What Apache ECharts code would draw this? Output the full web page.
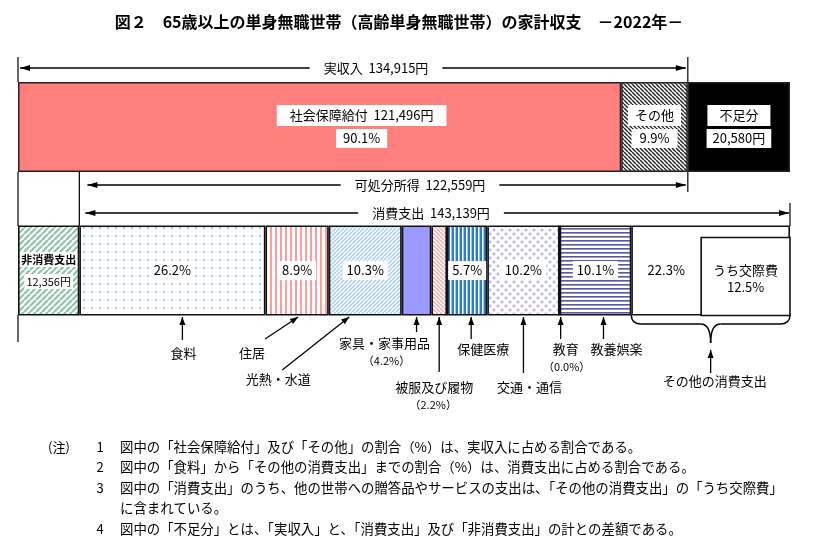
<!DOCTYPE html>
<html><head><meta charset="utf-8">
<script src="https://cdn.jsdelivr.net/npm/echarts@6/dist/echarts.min.js"></script>
<style>html,body{margin:0;padding:0;background:#fff}#c{width:822px;height:539px}</style>
</head><body><div id="c"></div>
<script>
const FONT = '"Noto Sans CJK JP","Noto Sans",sans-serif';

// ---- data ----
const titleText = '図２　65歳以上の単身無職世帯（高齢単身無職世帯）の家計収支　－2022年－';
const rowNames = ['収入', '支出'];
const incomeNames = ['社会保障給付', 'その他', '不足分'];
const incomeValues = [121496, 13419, 20580];
const expenseNames = ['非消費支出', '食料', '住居', '光熱・水道', '家具・家事用品', '被服及び履物', '保健医療', '交通・通信', '教育', '教養娯楽', 'その他の消費支出'];
const expenseValues = [12356, 37485, 12746, 14704, 5968, 3151, 8118, 14558, 15, 14429, 31965];
const kousaiName = 'うち交際費';
const kousaiValue = 17892;
const rangeNames = ['実収入', '可処分所得', '消費支出'];
const notes = [
  ['1', '図中の「社会保障給付」及び「その他」の割合（%）は、実収入に占める割合である。'],
  ['2', '図中の「食料」から「その他の消費支出」までの割合（%）は、消費支出に占める割合である。'],
  ['3', '図中の「消費支出」のうち、他の世帯への贈答品やサービスの支出は、「その他の消費支出」の「うち交際費」'],
  ['', 'に含まれている。'],
  ['4', '図中の「不足分」とは、「実収入」と、「消費支出」及び「非消費支出」の計との差額である。']
];

// ---- derived ----
const jitsu = incomeValues[0] + incomeValues[1];
const shohi = expenseValues.slice(1).reduce((a, b) => a + b, 0);
const kashobun = jitsu - expenseValues[0];
const grand = incomeValues.reduce((a, b) => a + b, 0);
const fmt = v => String(v).replace(/\B(?=(\d{3})+(?!\d))/g, ',');
const pct = (v, t) => (v / t * 100).toFixed(1);

// ---- patterns ----
function pat(w, h, fn) { const c = document.createElement('canvas'); c.width = w; c.height = h; const g = c.getContext('2d'); g.fillStyle = '#fff'; g.fillRect(0, 0, w, h); fn(g, w, h); return { image: c, repeat: 'repeat' }; }
function diag(color, lw, s, dir) {
  return pat(s, s, g => { g.strokeStyle = color; g.lineWidth = lw; g.beginPath();
    for (const k of [-s, 0, s]) { if (dir === '/') { g.moveTo(k, s); g.lineTo(k + s, 0); } else { g.moveTo(k, 0); g.lineTo(k + s, s); } }
    g.stroke(); });
}
function vstripe(color, p, w) { return pat(p, 2, g => { g.fillStyle = color; g.fillRect(0, 0, w, 2); }); }
function hstripe(color, p, w) { return pat(2, p, g => { g.fillStyle = color; g.fillRect(0, 0, 2, w); }); }
const dots = pat(8, 8, g => { g.fillStyle = '#A9C9EE'; g.fillRect(3, 3, 2, 2); });
const diamonds = pat(8, 8, g => { g.fillStyle = '#BEBEF6';
  for (const [cx, cy] of [[2, 2], [6, 6]]) { g.beginPath(); g.moveTo(cx, cy - 2); g.lineTo(cx + 2, cy); g.lineTo(cx, cy + 2); g.lineTo(cx - 2, cy); g.closePath(); g.fill(); } });
const health = pat(4, 2, g => { g.fillStyle = '#2B7BD6'; g.fillRect(0, 0, 2, 2); g.fillStyle = '#9CC6F2'; g.fillRect(3, 0, 1, 2); });

const incomeFills = ['#FF7F7F', diag('#222', 1.4, 4, '\\'), '#000'];
const expenseFills = [diag('#8CC6A8', 2.2, 6, '/'), dots, vstripe('#FF9C9C', 5, 2), diag('#AACFF3', 1.5, 4, '/'), '#9999FF',
  diag('#F6A9A9', 1.5, 4, '\\'), health, diamonds, '#fff', hstripe('#5757AD', 4, 1.6), '#fff'];

const boxA = { backgroundColor: '#fff', fontSize: 13, lineHeight: 14, fontFamily: FONT, color: '#000' };
const sp = (h) => ({ fontSize: 1, height: h, lineHeight: h });

const series = [];
incomeNames.forEach((n, i) => {
  const v = incomeValues[i];
  let text, offset = [0, 0], pa = [4, 8], pb = [3, 8];
  if (i === 0) { text = `{a|${n}  ${fmt(v)}円}\n{s| }\n{b|${pct(v, jitsu)}%}`; offset = [42, 0]; pa = [4, 13]; pb = [3, 7]; }
  else if (i === 1) { text = `{a|${n}}\n{s| }\n{b|${pct(v, jitsu)}%}`; pa = [4, 7]; }
  else { text = `{a|${n}}\n{s| }\n{b|${fmt(v)}円}`; pa = [4, 12]; pb = [3, 6]; }
  series.push({
    type: 'bar', name: n, stack: 'all', barWidth: 90, data: [v, '-'],
    itemStyle: { color: incomeFills[i], borderColor: '#222', borderWidth: 1.5 },
    label: { show: true, position: 'inside', offset, formatter: () => text,
      rich: { a: Object.assign({}, boxA, { padding: pa }), b: Object.assign({}, boxA, { padding: pb }), s: sp(9) } }
  });
});
const kousaiOffset = -(kousaiValue / grand * 772) / 2;
expenseNames.forEach((n, i) => {
  const v = expenseValues[i];
  let label = { show: false };
  if (i === 0) {
    label = { show: true, formatter: () => `{a|${n}}\n{s| }\n{b|${fmt(v)}円}`,
      rich: { a: { backgroundColor: '#fff', fontSize: 11, fontWeight: 'bold', lineHeight: 12, padding: [2, 1], fontFamily: FONT, color: '#000' },
        b: { backgroundColor: '#fff', fontSize: 11, lineHeight: 12, padding: [2, 2], fontFamily: FONT, color: '#000' }, s: sp(10) } };
  } else if (![4, 5, 8].includes(i)) {
    label = { show: true, offset: i === 10 ? [kousaiOffset, 0] : [0, 0], formatter: () => `{p|${pct(v, shohi)}%}`,
      rich: { p: { backgroundColor: '#fff', fontSize: 13, lineHeight: 14, padding: [3, 4], fontFamily: FONT, color: '#000' } } };
  }
  series.push({
    type: 'bar', name: n, stack: 'all', barWidth: 90, data: ['-', v],
    itemStyle: { color: expenseFills[i], borderColor: '#111', borderWidth: 1.6 }, label
  });
});
series.push({
  type: 'custom', name: kousaiName, data: [[grand - kousaiValue, grand, 1]], encode: { x: [0, 1], y: 2 }, z: 5,
  renderItem: (params, api) => {
    const s = api.coord([api.value(0), 1]), e = api.coord([api.value(1), 1]);
    const top = s[1] - 45 + 12, h = 78;
    return { type: 'group', children: [
      { type: 'rect', shape: { x: s[0], y: top, width: e[0] - s[0], height: h }, style: { fill: '#fff', stroke: '#111', lineWidth: 1.6 } },
      { type: 'text', style: { text: kousaiName + '\n' + pct(kousaiValue, shohi) + '%', x: (s[0] + e[0]) / 2, y: top + h / 2 + 2, align: 'center', verticalAlign: 'middle', fontSize: 13, lineHeight: 17, fontFamily: FONT, fill: '#000' } }
    ] };
  }
});

const chart = echarts.init(document.getElementById('c'), null, { renderer: 'canvas' });
chart.setOption({
  animation: false, backgroundColor: '#fff',
  grid: { left: 18, right: 32, top: 55.25, height: 287 },
  xAxis: { type: 'value', min: 0, max: grand, show: false },
  yAxis: { type: 'category', data: rowNames, inverse: true, show: false },
  series
});

// ---- annotations ----
const X = v => chart.convertToPixel({ xAxisIndex: 0 }, v);
const G = [];
const txt = (t, x, y, o = {}) => G.push({ type: 'text', x, y, silent: true, z: 10, style: Object.assign({ text: t, fontSize: 13, fontFamily: FONT, fill: '#000', align: 'center', verticalAlign: 'middle' }, o) });
const line = (x1, y1, x2, y2, lw = 1.2) => G.push({ type: 'line', silent: true, z: 1, shape: { x1, y1, x2, y2 }, style: { stroke: '#000', lineWidth: lw } });
const curve = (x1, y1, cx, cy, x2, y2) => G.push({ type: 'bezierCurve', silent: true, z: 10, shape: { x1, y1, x2, y2, cpx1: cx, cpy1: cy }, style: { stroke: '#000', lineWidth: 1.5, fill: null } });
function head(tx, ty, fx, fy, len = 8, hw = 3) {
  const dx = tx - fx, dy = ty - fy, d = Math.hypot(dx, dy), ux = dx / d, uy = dy / d;
  const bx = tx - ux * len, by = ty - uy * len;
  G.push({ type: 'polygon', silent: true, z: 10, shape: { points: [[tx, ty], [bx - uy * hw, by + ux * hw], [bx + uy * hw, by - ux * hw]] }, style: { fill: '#000' } });
}
function arrow(fx, fy, tx, ty) { line(fx, fy, tx, ty, 1.3); head(tx, ty, fx, fy); }
function range(x1, x2, y, label, tx) {
  line(x1, y, x2, y, 1.3); head(x1, y, x2, y, 10, 3); head(x2, y, x1, y, 10, 3);
  txt(label, tx, y, { backgroundColor: '#fff', padding: [2, 14] });
}

txt(titleText, 399, 22, { fontSize: 16, fontWeight: 'bold' });

const x0 = X(0), xJ = X(jitsu), xN = X(expenseValues[0]), xE = X(grand);
line(x0, 57, x0, 82); line(x0, 172, x0, 226); line(x0, 315, x0, 342);
line(xJ, 57, xJ, 82); line(xJ, 172, xJ, 192);
line(xN, 172, xN, 226); line(xE, 203, xE, 226);
range(x0 + 2, xJ - 2, 68, `${rangeNames[0]}  ${fmt(jitsu)}円`, 376);
range(xN + 8, xJ - 2, 185, `${rangeNames[1]}  ${fmt(kashobun)}円`, 420);
range(xN + 6, xE - 1, 213, `${rangeNames[2]}  ${fmt(shohi)}円`, 431);

// leader layout: [tip dx from segment center, tail dx, tail y, label dx, label y, sub dx, sub y]
const leaders = {
  1: [10, 0, 340, 1, 353], 2: [1, -33, 339, -46, 353], 3: [-16, -67, 370, -71, 379],
  4: [0, 0, 332, -32, 343, -30, 361], 5: [0, 0, 372, -5, 387, -6, 405], 6: [4, 0, 339, 12, 349],
  7: [0, 0, 373, 6, 387], 8: [1, 0, 339, 5, 349, 6, 367], 9: [8, 0, 339, 13, 349]
};
let cum = expenseValues[0];
const segs = expenseValues.map((v, i) => { if (i === 0) return null; const s = cum; cum += v; return [s, cum]; });
for (let i = 1; i <= 9; i++) {
  const [s, e] = segs[i]; const L = leaders[i];
  const tip = X((s + e) / 2) + L[0];
  arrow(tip + L[1], L[2], tip, 317);
  txt(expenseNames[i], tip + L[3], L[4]);
  if (L[5] !== undefined) txt(`（${pct(expenseValues[i], shohi)}%）`, tip + L[5], L[6], { fontSize: 11 });
}
{
  const [s, e] = segs[10]; const L = X(s), R = X(e), M = (L + R) / 2;
  curve(L, 315, L, 324, L + 10, 324);
  G.push({ type: 'line', silent: true, z: 10, shape: { x1: L + 10, y1: 324, x2: M - 10, y2: 324 }, style: { stroke: '#000', lineWidth: 1.5 } });
  curve(M - 10, 324, M, 324, M, 343);
  curve(M, 343, M, 324, M + 10, 324);
  G.push({ type: 'line', silent: true, z: 10, shape: { x1: M + 10, y1: 324, x2: R - 10, y2: 324 }, style: { stroke: '#000', lineWidth: 1.5 } });
  curve(R - 10, 324, R, 324, R, 315);
  arrow(M, 373, M, 350);
  txt(expenseNames[10], M + 4, 381);
}

// notes
txt('(注)', 48, 447, { align: 'left' });
const noteY = [447, 467, 488, 508, 529];
notes.forEach(([n, t], i) => { if (n) txt(n, 100, noteY[i]); txt(t, 120, noteY[i], { align: 'left', fontSize: 13.4 }); });

chart.setOption({ graphic: { elements: G } });
</script></body></html>
